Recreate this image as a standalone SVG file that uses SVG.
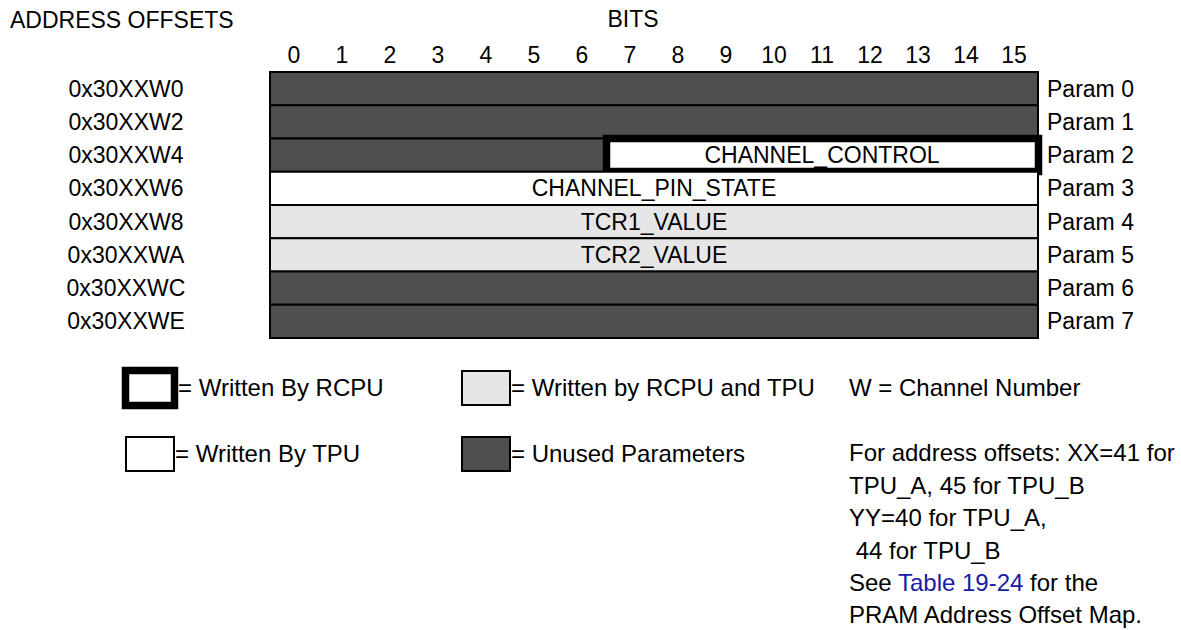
<svg xmlns="http://www.w3.org/2000/svg" width="1181" height="630" viewBox="0 0 1181 630">
<style>
text{font-family:"Liberation Sans",Arial,sans-serif;font-size:23px;fill:#000}
.m{text-anchor:middle}
.lg{font-size:24px}
.dk{fill:#4f4f4f;stroke:#000;stroke-width:2}
.lt{fill:#e6e6e6;stroke:#000;stroke-width:2}
.wh{fill:#fff;stroke:#000;stroke-width:2}
.thick{fill:#fff;stroke:#000;stroke-width:7.5}
.link{fill:#1a1aa6}
</style>
<rect width="1181" height="630" fill="#fff"/>
<g id="headers">
<text x="10" y="28">ADDRESS OFFSETS</text>
<text x="633" y="27" class="m">BITS</text>
<text x="294" y="63" class="m">0</text><text x="342" y="63" class="m">1</text><text x="390" y="63" class="m">2</text><text x="438" y="63" class="m">3</text><text x="486" y="63" class="m">4</text><text x="534" y="63" class="m">5</text><text x="582" y="63" class="m">6</text><text x="630" y="63" class="m">7</text><text x="678" y="63" class="m">8</text><text x="726" y="63" class="m">9</text><text x="774" y="63" class="m">10</text><text x="822" y="63" class="m">11</text><text x="870" y="63" class="m">12</text><text x="918" y="63" class="m">13</text><text x="966" y="63" class="m">14</text><text x="1014" y="63" class="m">15</text>
</g>
<g id="row0"><text x="126" y="96.5" class="m">0x30XXW0</text><rect class="dk" x="270" y="72" width="768" height="33.25"/><text x="1047" y="96.5">Param 0</text></g>
<g id="row1"><text x="126" y="129.5" class="m">0x30XXW2</text><rect class="dk" x="270" y="105.25" width="768" height="33.25"/><text x="1047" y="129.5">Param 1</text></g>
<g id="row2"><text x="126" y="163" class="m">0x30XXW4</text><rect class="dk" x="270" y="138.5" width="768" height="33.25"/><rect class="thick" x="606.5" y="138.5" width="432" height="33"/><text x="822" y="163" class="m">CHANNEL_CONTROL</text><text x="1047" y="163">Param 2</text></g>
<g id="row3"><text x="126" y="196" class="m">0x30XXW6</text><rect class="wh" x="270" y="171.75" width="768" height="33.25"/><text x="654" y="196" class="m">CHANNEL_PIN_STATE</text><text x="1047" y="196">Param 3</text></g>
<g id="row4"><text x="126" y="229.5" class="m">0x30XXW8</text><rect class="lt" x="270" y="205" width="768" height="33.25"/><text x="654" y="229.5" class="m">TCR1_VALUE</text><text x="1047" y="229.5">Param 4</text></g>
<g id="row5"><text x="126" y="262.5" class="m">0x30XXWA</text><rect class="lt" x="270" y="238.25" width="768" height="33.25"/><text x="654" y="262.5" class="m">TCR2_VALUE</text><text x="1047" y="262.5">Param 5</text></g>
<g id="row6"><text x="126" y="296" class="m">0x30XXWC</text><rect class="dk" x="270" y="271.5" width="768" height="33.25"/><text x="1047" y="296">Param 6</text></g>
<g id="row7"><text x="126" y="329" class="m">0x30XXWE</text><rect class="dk" x="270" y="304.75" width="768" height="33.25"/><text x="1047" y="329">Param 7</text></g>
<g id="connectors"></g>
<g id="legend-rcpu"><rect class="thick" x="125.5" y="370.5" width="49" height="35"/><text class="lg" x="178" y="396">= Written By RCPU</text></g>
<g id="legend-both"><rect class="lt" x="462" y="371" width="48" height="34"/><text class="lg" x="511" y="396">= Written by RCPU and TPU</text></g>
<g id="legend-tpu"><rect class="wh" x="126" y="437" width="48" height="34"/><text class="lg" x="175" y="462">= Written By TPU</text></g>
<g id="legend-unused"><rect class="dk" x="462" y="437" width="48" height="34"/><text class="lg" x="511" y="462">= Unused Parameters</text></g>
<g id="notes">
<text class="lg" x="849" y="396">W = Channel Number</text>
<text class="lg" x="849" y="461">For address offsets: XX=41 for</text>
<text class="lg" x="849" y="493.5">TPU_A, 45 for TPU_B</text>
<text class="lg" x="849" y="526">YY=40 for TPU_A,</text>
<text class="lg" x="849" y="558.5" xml:space="preserve"> 44 for TPU_B</text>
<text class="lg" x="849" y="591">See <tspan class="link">Table 19-24</tspan> for the</text>
<text class="lg" x="849" y="623">PRAM Address Offset Map.</text>
</g>
</svg>
